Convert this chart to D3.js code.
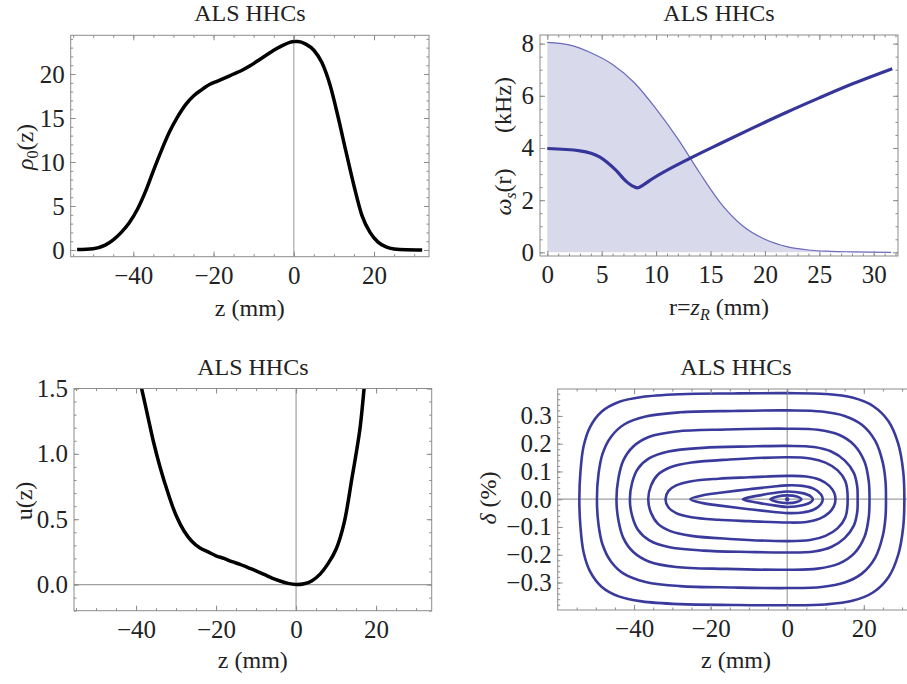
<!DOCTYPE html>
<html><head><meta charset="utf-8">
<script src="https://cdn.jsdelivr.net/npm/d3@7"></script>
<style>
body{margin:0;background:#fff}
svg{display:block}
text{font-family:"Liberation Serif","Times New Roman",serif;fill:#222}
</style>
</head><body>
<svg id="chart" width="907" height="684"></svg>
<script>
// ---------- data ----------
const titleText = "ALS HHCs";

// Panel 1: rho0(z)
const rhoZ   = [-54,-50,-47,-45,-43,-41,-39,-37,-35,-33,-31,-29,-27,-25,-23,-21,-19,-17,-15,-13,-11,-9,-7,-5,-3,-1,0,1,3,5,7,9,11,13,15,17,19,21,23,25,28,32];
const rhoVal = [0.05,0.15,0.55,1.15,2.0,3.1,4.6,6.6,9.0,11.3,13.4,15.1,16.5,17.5,18.2,18.8,19.2,19.6,20.0,20.4,20.9,21.5,22.1,22.7,23.2,23.6,23.7,23.7,23.4,22.7,21.3,18.8,15.2,11.2,7.3,3.9,2.0,0.9,0.35,0.12,0.03,0.01];
const p1XTicks = [-40,-20,0,20];
const p1YTicks = [0,5,10,15,20];

// Panel 2: omega_s(r) and shaded distribution
const fillR   = [0,2,4,6,8,10,12,14,16,18,20,22,24,26,28,31.6];
const fillVal = [8.05,7.95,7.65,7.2,6.5,5.5,4.35,3.05,1.85,1.0,0.5,0.22,0.09,0.04,0.02,0.0];
const omegaR   = [0,3,4.8,6.3,7.3,7.8,8.27,8.8,9.7,13.1,16,19,22,25,28,31.7];
const omegaVal = [3.98,3.89,3.66,3.15,2.70,2.55,2.47,2.58,2.83,3.6,4.19,4.79,5.37,5.92,6.45,7.04];
const p2XTicks = [0,5,10,15,20,25,30];
const p2YTicks = [0,2,4,6,8];

// Panel 3: u(z)
const uZ   = [-38.6,-37,-35.7,-34,-32,-30,-28,-26,-24,-22,-20,-18,-16,-14,-12,-10,-8,-6,-4,-2,0,2,4,6,8,10,12,14,15,16,17];
const uVal = [1.5,1.28,1.1,0.9,0.7,0.53,0.41,0.33,0.28,0.25,0.22,0.2,0.175,0.155,0.13,0.105,0.078,0.05,0.027,0.009,0,0.006,0.03,0.08,0.16,0.27,0.47,0.82,1.0,1.2,1.5];
const p3XTicks = [-40,-20,0,20];
const p3YTicks = [0,0.5,1.0,1.5];

// Panel 4: phase-space contours (upper halves, [z, delta]; symmetric in delta)
const contourUpper = [
  [[-54.3,0],[-54.0,0.1],[-53.2,0.19],[-51.5,0.26],[-48.5,0.315],[-44,0.35],[-38,0.368],[-28,0.378],[-14,0.381],[0,0.382],[10,0.379],[17,0.366],[22.5,0.335],[26.5,0.28],[29,0.2],[30.3,0.1],[30.6,0]],
  [[-49.7,0],[-49.3,0.09],[-48.2,0.165],[-46,0.225],[-42.5,0.27],[-37,0.298],[-28,0.313],[-14,0.318],[0,0.32],[9,0.316],[15,0.3],[19.5,0.268],[23,0.21],[25,0.13],[25.7,0.06],[25.8,0]],
  [[-44.6,0],[-44.1,0.075],[-42.8,0.14],[-40.2,0.19],[-36,0.225],[-29,0.244],[-16,0.251],[0,0.254],[8,0.25],[13.5,0.232],[17.5,0.195],[20.2,0.135],[21.3,0.065],[21.5,0]],
  [[-41.1,0],[-40.5,0.06],[-39,0.11],[-36,0.148],[-31,0.172],[-22,0.185],[-10,0.19],[0,0.192],[7,0.188],[11.5,0.172],[15,0.14],[17.4,0.095],[18.3,0.045],[18.4,0]],
  [[-36.3,0],[-35.6,0.048],[-33.8,0.088],[-30.5,0.115],[-25,0.132],[-15,0.143],[0,0.151],[6,0.147],[10,0.132],[13.2,0.104],[15.2,0.065],[15.8,0]],
  [[-31.8,0],[-31,0.03],[-29,0.05],[-25,0.065],[-18,0.074],[-10,0.079],[0,0.084],[5,0.082],[8.5,0.07],[11,0.048],[12.3,0.022],[12.6,0]],
  [[-25.3,0],[-22,0.014],[-17,0.024],[-10,0.036],[-4,0.045],[0,0.05],[4,0.048],[7,0.037],[8.8,0.018],[9.3,0]],
  [[-11.6,0],[-8,0.012],[-3,0.023],[0,0.028],[4,0.022],[6.2,0.01],[6.7,0]],
  [[-4.4,0],[-2.5,0.01],[0,0.014],[2.5,0.01],[3.7,0]]
];
const centerPoint = [0,0];
const p4XTicks = [-40,-20,0,20];
const p4YTicks = [-0.3,-0.2,-0.1,0,0.1,0.2,0.3];

// ---------- drawing ----------
const svg = d3.select("#chart");
const FONT = 24, TICKFONT = 25;
const frameColor = "#8c8c8c";
let clipId = 0;

function styleTicks(s){ s.select(".domain").remove(); s.selectAll("line").attr("stroke",frameColor); }

function panel(o){
  const g = svg.append("g");
  const x = d3.scaleLinear().domain(o.xDomain).range([o.left,o.right]);
  const y = d3.scaleLinear().domain(o.yDomain).range([o.bottom,o.top]);
  const id = "clip"+(clipId++);
  svg.append("clipPath").attr("id",id).append("rect")
    .attr("x",o.left).attr("y",o.top).attr("width",o.right-o.left).attr("height",o.bottom-o.top);
  const plot = g.append("g").attr("clip-path",`url(#${id})`);

  const minorX = d3.range(Math.ceil(o.xDomain[0]/o.xMinor)*o.xMinor, o.xDomain[1]+1e-9, o.xMinor);
  const minorY = d3.range(Math.ceil(o.yDomain[0]/o.yMinor)*o.yMinor, o.yDomain[1]+1e-9, o.yMinor);
  [[d3.axisBottom(x),`translate(0,${o.bottom})`],[d3.axisTop(x),`translate(0,${o.top})`]].forEach(([a,t])=>{
    g.append("g").attr("transform",t).call(a.tickValues(minorX).tickSize(-2.5).tickFormat("")).call(styleTicks);
    g.append("g").attr("transform",t).call(a.tickValues(o.xTicks).tickSize(-5).tickFormat("")).call(styleTicks);
  });
  [[d3.axisLeft(y),`translate(${o.left},0)`],[d3.axisRight(y),`translate(${o.right},0)`]].forEach(([a,t])=>{
    g.append("g").attr("transform",t).call(a.tickValues(minorY).tickSize(-2.5).tickFormat("")).call(styleTicks);
    g.append("g").attr("transform",t).call(a.tickValues(o.yTicks).tickSize(-5).tickFormat("")).call(styleTicks);
  });
  g.append("g").attr("transform",`translate(0,${o.bottom})`)
    .call(d3.axisBottom(x).tickValues(o.xTicks).tickSize(0).tickPadding(9.5).tickFormat(o.xFmt||d3.format("d")))
    .call(s=>{s.select(".domain").remove(); s.selectAll("text").attr("font-size",TICKFONT).attr("font-family","Liberation Serif").attr("fill","#222");});
  g.append("g").attr("transform",`translate(${o.left},0)`)
    .call(d3.axisLeft(y).tickValues(o.yTicks).tickSize(0).tickPadding(6).tickFormat(o.yFmt||d3.format("d")))
    .call(s=>{s.select(".domain").remove(); s.selectAll("text").attr("font-size",TICKFONT).attr("font-family","Liberation Serif").attr("fill","#222");});

  g.append("text").attr("x",(o.left+o.right)/2).attr("y",o.top-14).attr("text-anchor","middle")
    .attr("font-size",FONT).text(titleText);
  return {g,plot,x,y};
}

function frame(p,o){
  p.g.append("rect").attr("x",o.left).attr("y",o.top).attr("width",o.right-o.left).attr("height",o.bottom-o.top)
    .attr("fill","none").attr("stroke",frameColor).attr("stroke-width",1);
}

// Panel 1
const o1 = {left:70.7,right:429,top:35.3,bottom:256.7,xDomain:[-55.6,33.7],yDomain:[-0.76,24.4],
  xTicks:p1XTicks,yTicks:p1YTicks,xMinor:5,yMinor:1};
const p1 = panel(o1);
p1.plot.append("line").attr("x1",p1.x(0)).attr("x2",p1.x(0)).attr("y1",o1.top).attr("y2",o1.bottom)
  .attr("stroke","#a8a8a8").attr("stroke-width",1.2);
p1.plot.append("path").datum(rhoZ.map((z,i)=>[z,rhoVal[i]]))
  .attr("d",d3.line().x(d=>p1.x(d[0])).y(d=>p1.y(d[1])).curve(d3.curveMonotoneX))
  .attr("fill","none").attr("stroke","#000").attr("stroke-width",3.5);
frame(p1,o1);
{
  const t = p1.g.append("text").attr("transform",`translate(33,147) rotate(-90)`).attr("text-anchor","middle").attr("font-size",FONT);
  t.append("tspan").attr("font-style","italic").text("ρ");
  t.append("tspan").attr("font-size",16).attr("dy",5).text("0");
  t.append("tspan").attr("dy",-5).text("(z)");
  p1.g.append("text").attr("x",(o1.left+o1.right)/2).attr("y",316).attr("text-anchor","middle").attr("font-size",FONT).text("z (mm)");
}

// Panel 2
const o2 = {left:540,right:898,top:35,bottom:256,xDomain:[-0.67,32.23],yDomain:[-0.14,8.33],
  xTicks:p2XTicks,yTicks:p2YTicks,xMinor:1,yMinor:0.5};
const p2 = panel(o2);
const fillData = fillR.map((r,i)=>[r,fillVal[i]]);
p2.plot.append("path").datum(fillData)
  .attr("d",d3.area().x(d=>p2.x(d[0])).y0(p2.y(0)).y1(d=>p2.y(d[1])).curve(d3.curveMonotoneX))
  .attr("fill","#d9d9ec").attr("stroke","none");
p2.plot.append("path").datum(fillData)
  .attr("d",d3.line().x(d=>p2.x(d[0])).y(d=>p2.y(d[1])).curve(d3.curveMonotoneX))
  .attr("fill","none").attr("stroke","#6a6abb").attr("stroke-width",1.2);
p2.plot.append("path").datum(omegaR.map((r,i)=>[r,omegaVal[i]]))
  .attr("d",d3.line().x(d=>p2.x(d[0])).y(d=>p2.y(d[1])).curve(d3.curveMonotoneX))
  .attr("fill","none").attr("stroke","#35359a").attr("stroke-width",3.2);
frame(p2,o2);
{
  const t = p2.g.append("text").attr("transform",`translate(511,192) rotate(-90)`).attr("text-anchor","middle").attr("font-size",FONT);
  t.append("tspan").attr("font-style","italic").text("ω");
  t.append("tspan").attr("font-size",16).attr("font-style","italic").attr("dy",5).text("s");
  t.append("tspan").attr("dy",-5).text("(r)");
  p2.g.append("text").attr("transform",`translate(511,105) rotate(-90)`).attr("text-anchor","middle").attr("font-size",FONT).text("(kHz)");
  const t2 = p2.g.append("text").attr("x",(o2.left+o2.right)/2).attr("y",315).attr("text-anchor","middle").attr("font-size",FONT);
  t2.append("tspan").text("r=");
  t2.append("tspan").attr("font-style","italic").text("z");
  t2.append("tspan").attr("font-style","italic").attr("font-size",16).attr("dy",5).text("R");
  t2.append("tspan").attr("dy",-5).text(" (mm)");
}

// Panel 3
const o3 = {left:74,right:431.7,top:388.5,bottom:610.7,xDomain:[-55.5,33.9],yDomain:[-0.2,1.5],
  xTicks:p3XTicks,yTicks:p3YTicks,xMinor:5,yMinor:0.1,yFmt:d3.format(".1f")};
const p3 = panel(o3);
p3.plot.append("line").attr("x1",p3.x(0)).attr("x2",p3.x(0)).attr("y1",o3.top).attr("y2",o3.bottom)
  .attr("stroke","#a0a0a0").attr("stroke-width",1.2);
p3.plot.append("line").attr("x1",o3.left).attr("x2",o3.right).attr("y1",p3.y(0)).attr("y2",p3.y(0))
  .attr("stroke","#a0a0a0").attr("stroke-width",1.2);
p3.plot.append("path").datum(uZ.map((z,i)=>[z,uVal[i]]))
  .attr("d",d3.line().x(d=>p3.x(d[0])).y(d=>p3.y(d[1])).curve(d3.curveCatmullRom))
  .attr("fill","none").attr("stroke","#000").attr("stroke-width",3.5);
frame(p3,o3);
p3.g.append("text").attr("transform",`translate(32,501) rotate(-90)`).attr("text-anchor","middle").attr("font-size",FONT).text("u(z)");
p3.g.append("text").attr("x",(o3.left+o3.right)/2).attr("y",668).attr("text-anchor","middle").attr("font-size",FONT).text("z (mm)");

// Panel 4
const o4 = {left:557.7,right:914.3,top:389,bottom:610,xDomain:[-59.95,33.2],yDomain:[-0.399,0.397],
  xTicks:p4XTicks,yTicks:p4YTicks,xMinor:5,yMinor:0.02,yFmt:d3.format(".1f")};
const p4 = panel(o4);
p4.plot.append("line").attr("x1",p4.x(0)).attr("x2",p4.x(0)).attr("y1",o4.top).attr("y2",o4.bottom)
  .attr("stroke","#a0a0a0").attr("stroke-width",1.2);
p4.plot.append("line").attr("x1",o4.left).attr("x2",o4.right).attr("y1",p4.y(0)).attr("y2",p4.y(0))
  .attr("stroke","#a0a0a0").attr("stroke-width",1.2);
contourUpper.forEach(up=>{
  const lower = up.slice(1,-1).reverse().map(d=>[d[0],-d[1]]);
  const loop = up.concat(lower);
  p4.plot.append("path").datum(loop)
    .attr("d",d3.line().x(d=>p4.x(d[0])).y(d=>p4.y(d[1])).curve(d3.curveCatmullRomClosed))
    .attr("fill","none").attr("stroke","#3a3a9c").attr("stroke-width",2.6);
});
p4.plot.append("circle").attr("cx",p4.x(centerPoint[0])).attr("cy",p4.y(centerPoint[1])).attr("r",2.2).attr("fill","#3a3a9c");
frame(p4,o4);
{
  const t = p4.g.append("text").attr("transform",`translate(496,498) rotate(-90)`).attr("text-anchor","middle").attr("font-size",FONT);
  t.append("tspan").attr("font-style","italic").text("δ");
  t.append("tspan").text(" (%)");
  p4.g.append("text").attr("x",(o4.left+o4.right)/2).attr("y",668).attr("text-anchor","middle").attr("font-size",FONT).text("z (mm)");
}
</script>
</body></html>
